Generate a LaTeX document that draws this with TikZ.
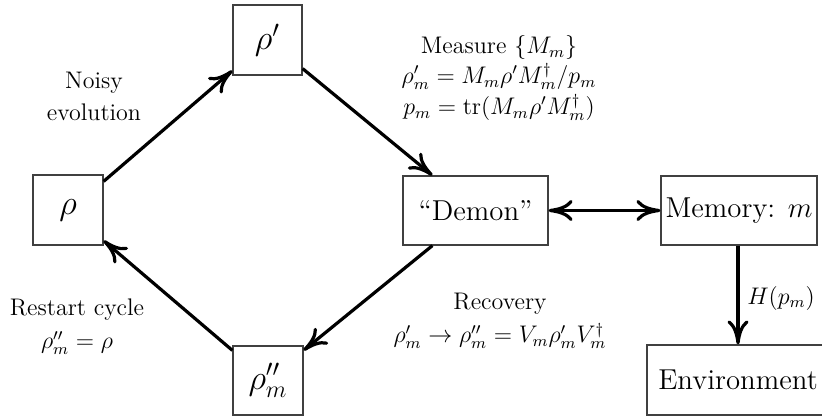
\documentclass[tikz,border=0pt]{standalone}
\usetikzlibrary{arrows.meta}
\begin{document}
\begin{tikzpicture}[x=0.5pt,y=-0.5pt,
  box/.style={draw=black!75,line width=0.6pt,inner sep=0pt,font=\Large},
  lbl/.style={font=\large,align=center,inner sep=0pt},
  tip/.tip={To[length=12pt,width=10.5pt,line width=1.6pt]},
  conn/.style={line width=1.6pt,-tip},
  conn2/.style={line width=1.6pt,tip-tip}]
\useasboundingbox (0,0) rectangle (822,416);
\node[box,minimum width=35pt,minimum height=35pt] (rho) at (68,210) {\LARGE$\rho$};
\node[box,minimum width=34.5pt,minimum height=35pt] (rhop) at (267.5,40) {\LARGE$\rho'$};
\node[box,minimum width=72.5pt,minimum height=34.5pt] (demon) at (475.5,210.5) {``Demon''};
\node[box,minimum width=78pt,minimum height=34.5pt] (mem) at (739,210.5) {Memory: $m$};
\node[box,minimum width=35pt,minimum height=34.5pt] (rhopp) at (268,380.5) {\LARGE$\rho''_m$};
\node[box,minimum width=91pt,minimum height=35pt] (env) at (738,380) {Environment};

\node[lbl] (noisy) at (94,96) {Noisy\\[2pt]evolution};
\node[lbl] (meas) at (499,78) {Measure $\{M_m\}$\\[1pt]$\rho'_m = M_m\rho' M_m^\dagger/p_m$\\[1.5pt]$p_m = \mathrm{tr}(M_m\rho' M_m^\dagger)$};
\node[lbl] (restart) at (77,327) {Restart cycle\\[2.5pt]$\rho''_m=\rho$};
\node[lbl] (recov) at (500,321) {Recovery\\[2.5pt]$\rho'_m \to \rho''_m = V_m\rho'_m V_m^\dagger$};
\node[lbl,anchor=west] (hpm) at (747,298) {$H(p_m)$};

\draw[conn] ([yshift=-3.5pt]rho.north east) -- ([yshift=2.5pt]rhop.south west);
\draw[conn] ([yshift=3.5pt]rhop.south east) -- ([xshift=15pt]demon.north west);
\draw[conn] ([xshift=15pt]demon.south west) -- ([yshift=-2.5pt]rhopp.north east);
\draw[conn] ([yshift=-2.5pt]rhopp.north west) -- ([yshift=2.5pt]rho.south east);
\draw[conn2] (demon.east) -- (mem.west);
\draw[conn] (mem.south -| env.north) -- (env.north);
\end{tikzpicture}
\end{document}
